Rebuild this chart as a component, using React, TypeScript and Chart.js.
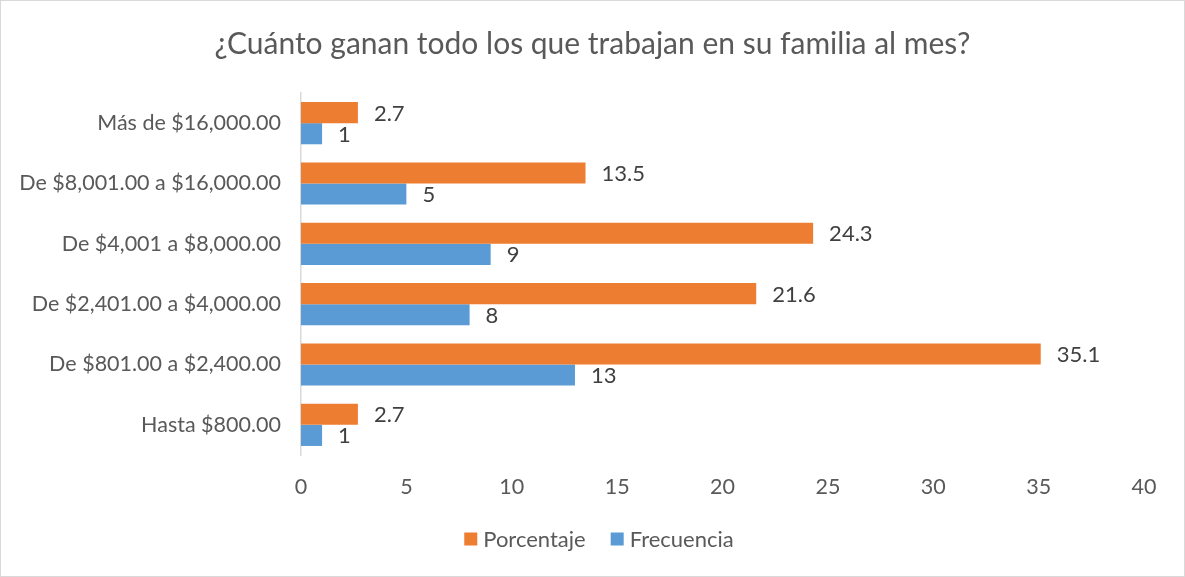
import React, { useEffect, useRef } from "react";
import { Chart, registerables } from "chart.js";

Chart.register(...registerables);

const TITLE = "¿Cuánto ganan todo los que trabajan en su familia al mes?";
const categories = [
  "Más de $16,000.00",
  "De $8,001.00 a $16,000.00",
  "De $4,001 a $8,000.00",
  "De $2,401.00 a $4,000.00",
  "De $801.00 a $2,400.00",
  "Hasta $800.00",
];
const porcentaje = [2.7, 13.5, 24.3, 21.6, 35.1, 2.7];
const frecuencia = [1, 5, 9, 8, 13, 1];
const xTicks = [0, 5, 10, 15, 20, 25, 30, 35, 40];

const FONT = "Lato, 'Open Sans', sans-serif";
const TEXT = "#595959";

const valueLabels = {
  id: "valueLabels",
  afterDatasetsDraw(chart: any) {
    const ctx = chart.ctx;
    ctx.save();
    ctx.font = `22px ${FONT}`;
    ctx.fillStyle = "#404040";
    ctx.textAlign = "left";
    ctx.textBaseline = "middle";
    chart.data.datasets.forEach((ds: any, di: number) => {
      const meta = chart.getDatasetMeta(di);
      meta.data.forEach((el: any, i: number) => {
        ctx.fillText(String(ds.data[i]), el.x + 16, el.y + 1);
      });
    });
    ctx.restore();
  },
};

const titleAndLegend = {
  id: "titleAndLegend",
  afterDraw(chart: any) {
    const ctx = chart.ctx;
    const w = chart.width;
    ctx.save();
    // title
    ctx.font = `30px ${FONT}`;
    ctx.fillStyle = TEXT;
    ctx.textAlign = "center";
    ctx.textBaseline = "middle";
    ctx.fillText(TITLE, w / 2, 43);
    // legend
    ctx.font = `22px ${FONT}`;
    ctx.textAlign = "left";
    const items = chart.data.datasets.map((d: any) => ({
      label: d.label,
      color: d.backgroundColor,
      tw: ctx.measureText(d.label).width,
    }));
    const box = 13;
    const gapText = 6;
    const gapItem = 25;
    let total = 0;
    items.forEach((it: any, i: number) => {
      total += box + gapText + it.tw + (i > 0 ? gapItem : 0);
    });
    let x = 598 - total / 2;
    const cy = 538;
    items.forEach((it: any) => {
      ctx.fillStyle = it.color;
      ctx.fillRect(x, cy - box / 2, box, box);
      ctx.fillStyle = TEXT;
      ctx.fillText(it.label, x + box + gapText, cy + 1);
      x += box + gapText + it.tw + gapItem;
    });
    ctx.restore();
  },
};

export default function App() {
  const ref = useRef<HTMLCanvasElement | null>(null);
  useEffect(() => {
    document.body.style.margin = "0";
    const chart = new Chart(ref.current!, {
      type: "bar",
      data: {
        labels: categories,
        datasets: [
          { label: "Porcentaje", data: porcentaje, backgroundColor: "#ED7D31" },
          { label: "Frecuencia", data: frecuencia, backgroundColor: "#5B9BD5" },
        ],
      },
      options: {
        indexAxis: "y",
        responsive: false,
        animation: false,
        categoryPercentage: 0.7,
        barPercentage: 1,
        layout: { padding: { left: 0, right: 40, top: 92, bottom: 58 } },
        plugins: {
          title: { display: false },
          legend: { display: false },
          tooltip: { enabled: false },
        },
        scales: {
          x: {
            min: 0,
            max: 40,
            afterBuildTicks: (s: any) => {
              s.ticks = xTicks.map((v) => ({ value: v }));
            },
            afterFit: (s: any) => {
              s.height = 63;
            },
            grid: { display: false, drawTicks: false },
            border: { display: false },
            ticks: {
              color: TEXT,
              font: { family: FONT, size: 21.5 },
              padding: 19,
            },
          },
          y: {
            afterFit: (s: any) => {
              s.width = 300;
            },
            grid: { display: false, drawTicks: false },
            border: { display: true, color: "#D9D9D9", width: 1.5 },
            ticks: {
              color: TEXT,
              font: { family: FONT, size: 21.5 },
              padding: 20,
            },
          },
        },
      },
      plugins: [valueLabels, titleAndLegend],
    });
    return () => chart.destroy();
  }, []);
  return (
    <div
      style={{
        position: "absolute",
        left: 0,
        top: 0,
        width: 1185,
        height: 577,
        boxSizing: "border-box",
        border: "1px solid #D9D9D9",
        background: "#fff",
      }}
    >
      <canvas ref={ref} width={1183} height={575} style={{ display: "block" }} />
    </div>
  );
}
